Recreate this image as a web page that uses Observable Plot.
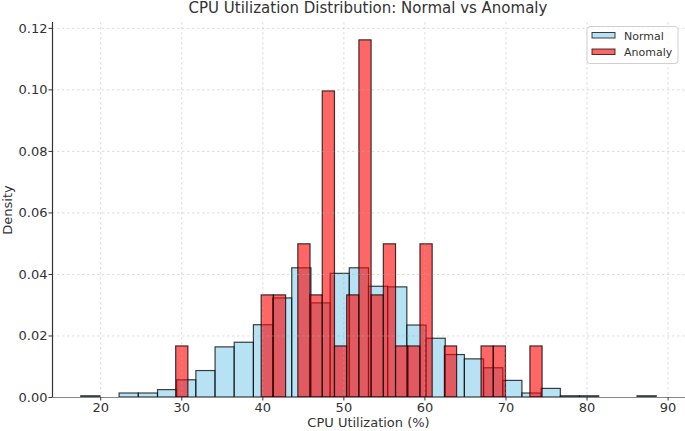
<!DOCTYPE html>
<html>
<head>
<meta charset="utf-8">
<script src="https://cdn.jsdelivr.net/npm/d3@7"></script>
<script src="https://cdn.jsdelivr.net/npm/@observablehq/plot@0.6"></script>
<style>
  html, body { margin: 0; padding: 0; background: #fff; }
  #chart { width: 685px; height: 431px; }
</style>
</head>
<body>
<div id="chart"></div>
<script>
// ---- Data ----
const normalEdges = [17.6, 19.97, 22.33, 24.7, 27.07, 29.43, 31.8, 34.17, 36.53, 38.9,
  41.27, 43.63, 46.0, 48.37, 50.73, 53.1, 55.47, 57.83, 60.2, 62.57,
  64.93, 67.3, 69.67, 72.03, 74.4, 76.77, 79.13, 81.5, 83.87, 86.23, 88.6];
const normalDensity = [0.0004, 0, 0.0013, 0.0013, 0.0024, 0.0056, 0.0086, 0.0163, 0.0178, 0.0235,
  0.0322, 0.042, 0.0306, 0.0402, 0.042, 0.036, 0.0358, 0.0234, 0.0191, 0.0138,
  0.0124, 0.0095, 0.0054, 0.0013, 0.0028, 0.0004, 0.0004, 0, 0, 0.0004];

const anomalyEdges = [29.31, 30.817, 32.324, 33.831, 35.338, 36.845, 38.352, 39.859, 41.366, 42.873,
  44.38, 45.887, 47.394, 48.901, 50.408, 51.915, 53.422, 54.929, 56.436, 57.943,
  59.45, 60.957, 62.464, 63.971, 65.478, 66.985, 68.492, 69.999, 71.506, 73.013, 74.52];
const anomalyDensity = [0.0166, 0, 0, 0, 0, 0, 0, 0.0332, 0.0332, 0,
  0.0498, 0.0332, 0.0995, 0.0166, 0.0332, 0.1161, 0.0332, 0.0498, 0.0166, 0.0166,
  0.0498, 0, 0.0166, 0, 0, 0.0166, 0.0166, 0, 0, 0.0166];

const xTicks = [20, 30, 40, 50, 60, 70, 80, 90];
const yTicks = [0, 0.02, 0.04, 0.06, 0.08, 0.10, 0.12];
const seriesNames = ["Normal", "Anomaly"];
const titleText = "CPU Utilization Distribution: Normal vs Anomaly";
const xLabel = "CPU Utilization (%)";
const yLabel = "Density";

// ---- Build tables ----
function toBins(edges, dens) {
  return dens.map((d, i) => ({x1: edges[i], x2: edges[i + 1], y: d})).filter(b => b.y > 0);
}
const normalBins = toBins(normalEdges, normalDensity);
const anomalyBins = toBins(anomalyEdges, anomalyDensity);

const xDomain = [14.05, 92.15];
const yDomain = [0, 0.1219];
const font = "'DejaVu Sans', sans-serif";
const ink = "#333";
const gridStyle = {stroke: "#b0b0b0", strokeOpacity: 0.55, strokeDasharray: "2.5,2.5", strokeWidth: 0.8};

const plot = Plot.plot({
  width: 685,
  height: 431,
  marginLeft: 52,
  marginRight: 0,
  marginTop: 22,
  marginBottom: 34,
  style: {fontFamily: font, fontSize: "13px", color: ink, background: "#fff"},
  x: {domain: xDomain},
  y: {domain: yDomain},
  marks: [
    Plot.rect(normalBins, {x1: "x1", x2: "x2", y1: 0, y2: "y", fill: "#87ceeb", fillOpacity: 0.6,
      stroke: "black", strokeOpacity: 0.75, strokeWidth: 1.2, inset: 0}),
    Plot.rect(anomalyBins, {x1: "x1", x2: "x2", y1: 0, y2: "y", fill: "#ff0000", fillOpacity: 0.6,
      stroke: "black", strokeOpacity: 0.75, strokeWidth: 1.2, inset: 0}),
    Plot.gridX(xTicks, gridStyle),
    Plot.gridY(yTicks.slice(1), gridStyle),
    Plot.ruleY([0], {stroke: "#888", strokeWidth: 1.2}),
    Plot.ruleX([xDomain[0]], {stroke: "#333", strokeWidth: 1.2}),
    Plot.axisX({ticks: xTicks, tickSize: 3.5, tickPadding: 1.5, label: null, fontSize: 13, tickFormat: d => String(d)}),
    Plot.axisY({ticks: yTicks, tickSize: 3.5, tickPadding: 1.5, label: null, fontSize: 13, tickFormat: d3.format(".2f")})
  ]
});

document.getElementById("chart").appendChild(plot);

// ---- Title, axis labels, legend ----
const svg = d3.select(plot);
svg.append("text").attr("x", 368).attr("y", 13).attr("text-anchor", "middle")
  .attr("font-family", font).attr("font-size", 15).attr("fill", ink).text(titleText);
svg.append("text").attr("x", 368.5).attr("y", 427).attr("text-anchor", "middle")
  .attr("font-family", font).attr("font-size", 13).attr("fill", ink).text(xLabel);
svg.append("text").attr("transform", "translate(12,210) rotate(-90)").attr("text-anchor", "middle")
  .attr("font-family", font).attr("font-size", 13).attr("fill", ink).text(yLabel);

const lg = svg.append("g");
lg.append("rect").attr("x", 587).attr("y", 26.5).attr("width", 91).attr("height", 37).attr("rx", 3)
  .attr("fill", "#fff").attr("fill-opacity", 0.8).attr("stroke", "#d0d0d0");
const legendFills = ["#87ceeb", "#ff0000"];
seriesNames.forEach((name, i) => {
  const y0 = 32.5 + i * 16.5;
  lg.append("rect").attr("x", 592).attr("y", y0).attr("width", 23).attr("height", 5.5)
    .attr("fill", legendFills[i]).attr("fill-opacity", 0.6).attr("stroke", "black").attr("stroke-opacity", 0.75);
  lg.append("text").attr("x", 624).attr("y", y0 + 7.3).attr("text-anchor", "start")
    .attr("font-family", font).attr("font-size", 11).attr("fill", ink).text(name);
});
</script>
</body>
</html>
